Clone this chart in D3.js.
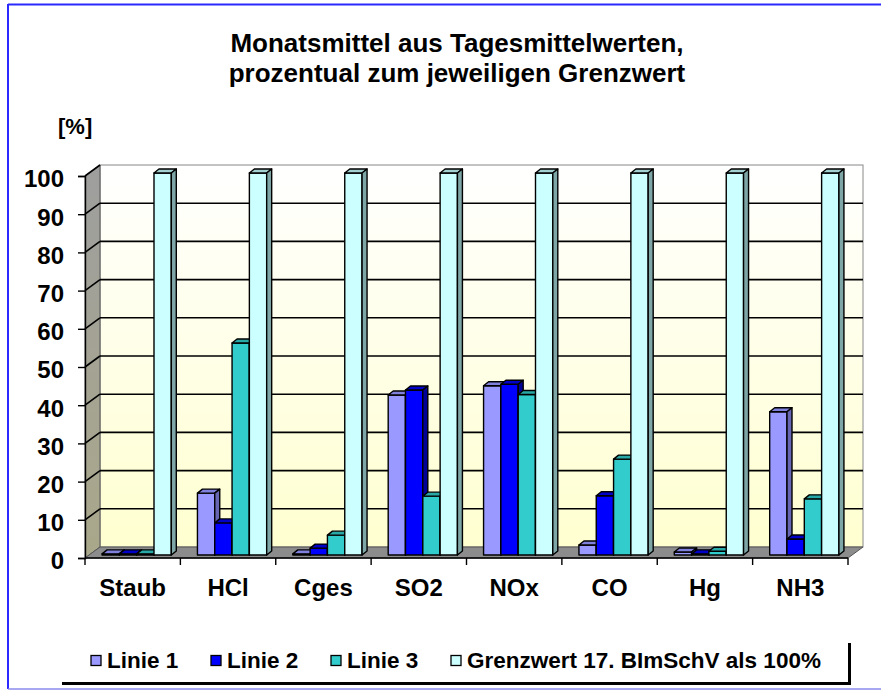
<!DOCTYPE html>
<meta charset="utf-8">
<style>
body { margin: 0; background: #fff; }
svg { display: block; font-family: "Liberation Sans", Arial, sans-serif; font-weight: bold; }
</style>
<svg width="881" height="692"></svg>
<script src="https://cdn.jsdelivr.net/npm/d3@7"></script>
<script>
// values, percent of the limit value
const categories = ["Staub", "HCl", "Cges", "SO2", "NOx", "CO", "Hg", "NH3"]
const series = ["Linie 1", "Linie 2", "Linie 3", "Grenzwert 17. BImSchV als 100%"]
const linie1 = [0.3, 16.2, 0.3, 41.9, 44.3, 2.6, 0.8, 37.5]
const linie2 = [0.3, 8.4, 1.8, 43.2, 44.7, 15.5, 0.3, 4.2]
const linie3 = [0.3, 55.5, 5.2, 15.4, 42.0, 25.1, 1.0, 14.7]
const grenzwert = [100, 100, 100, 100, 100, 100, 100, 100]
const yTicks = [0, 10, 20, 30, 40, 50, 60, 70, 80, 90, 100]

const front = ["#9999ff", "#0000ff", "#33cccc", "#ccffff"]
const top_ = ["#8080dd", "#0000c8", "#29a8a8", "#a3d1d1"]
const side = ["#6666b3", "#000099", "#1f8080", "#7fa6a6"]

var svg = d3.select("svg")

// outer frame
svg.append("line").attr("x1", 8).attr("x2", 881).attr("y1", 4.5).attr("y2", 4.5)
  .attr("stroke", "#2a2aff").attr("stroke-width", 2)
svg.append("line").attr("x1", 8).attr("x2", 8).attr("y1", 4).attr("y2", 689)
  .attr("stroke", "#2a2aff").attr("stroke-width", 2)
svg.append("line").attr("x1", 8).attr("x2", 881).attr("y1", 689).attr("y2", 689)
  .attr("stroke", "#8a8aee").attr("stroke-width", 1.5)

// title
svg.append("text").attr("x", 457).attr("y", 52).attr("text-anchor", "middle")
  .attr("font-size", 26).text("Monatsmittel aus Tagesmittelwerten,")
svg.append("text").attr("x", 457).attr("y", 82).attr("text-anchor", "middle")
  .attr("font-size", 26).text("prozentual zum jeweiligen Grenzwert")
svg.append("text").attr("x", 58).attr("y", 134).attr("font-size", 22).text("[%]")

var x = d3.scaleBand().domain(categories).range([85, 848])
var y = d3.scaleLinear().domain([0, 100]).range([558, 176])
var xs = d3.scaleBand().domain(series).range([0, x.bandwidth()]).paddingOuter(0.755)

// depth of the walls, position of the bar plane, depth of a bar
var dx = 15, dy = -11
var bx = 4, by = -3
var ddx = 5, ddy = -4

var x0 = x.range()[0], x1 = x.range()[1]

var defs = svg.append("defs")
var g1 = defs.append("linearGradient").attr("id", "wall").attr("x1", 0).attr("x2", 0).attr("y1", 0).attr("y2", 1)
g1.append("stop").attr("offset", 0).attr("stop-color", "#ffffff")
g1.append("stop").attr("offset", 1).attr("stop-color", "#ffffd0")
var g2 = defs.append("linearGradient").attr("id", "lwall").attr("x1", 0).attr("x2", 0).attr("y1", 0).attr("y2", 1)
g2.append("stop").attr("offset", 0).attr("stop-color", "#9e9e9e")
g2.append("stop").attr("offset", 1).attr("stop-color", "#aaa88a")

// back wall
svg.append("rect")
  .attr("x", x0 + dx).attr("y", y(100) + dy)
  .attr("width", x1 - x0).attr("height", y(0) - y(100))
  .attr("fill", "url(#wall)").attr("stroke", "#888").attr("stroke-width", 1)

// left wall
svg.append("path")
  .attr("d", "M" + x0 + "," + y(100) + "L" + (x0 + dx) + "," + (y(100) + dy) +
    "L" + (x0 + dx) + "," + (y(0) + dy) + "L" + x0 + "," + y(0) + "Z")
  .attr("fill", "url(#lwall)").attr("stroke", "#555").attr("stroke-width", 1)

// floor
svg.append("path")
  .attr("d", "M" + x0 + "," + y(0) + "L" + (x0 + dx) + "," + (y(0) + dy) +
    "L" + (x1 + dx) + "," + (y(0) + dy) + "L" + x1 + "," + y(0) + "Z")
  .attr("fill", "#8c8c8c").attr("stroke", "#555").attr("stroke-width", 1)

// gridlines
var grid = svg.append("g").attr("stroke", "#000").attr("stroke-width", 1.6)
grid.selectAll(".gb").data(yTicks.filter(t => t > 0 && t < 100)).enter().append("line")
  .attr("x1", x0 + dx).attr("x2", x1 + dx)
  .attr("y1", d => y(d) + dy).attr("y2", d => y(d) + dy)
grid.selectAll(".gl").data(yTicks.filter(t => t > 0)).enter().append("line")
  .attr("x1", x0).attr("x2", x0 + dx)
  .attr("y1", d => y(d)).attr("y2", d => y(d) + dy)

// bars
var values = [linie1, linie2, linie3, grenzwert]
var bars = svg.append("g").attr("stroke", "#000").attr("stroke-width", 1.4).attr("stroke-linejoin", "round")
categories.forEach((c, ci) => {
  series.forEach((s, si) => {
    var v = values[si][ci]
    var bl = x(c) + xs(s) + bx
    var w = xs.bandwidth()
    var yt = y(v) + by
    var yb = y(0) + by
    bars.append("rect").attr("x", bl).attr("y", yt).attr("width", w).attr("height", yb - yt)
      .attr("fill", front[si])
    bars.append("path")
      .attr("d", "M" + bl + "," + yt + "l" + ddx + "," + ddy + "h" + w + "l" + (-ddx) + "," + (-ddy) + "Z")
      .attr("fill", top_[si])
    bars.append("path")
      .attr("d", "M" + (bl + w) + "," + yt + "l" + ddx + "," + ddy + "V" + (yb + ddy) + "l" + (-ddx) + "," + (-ddy) + "Z")
      .attr("fill", side[si])
  })
})

// axes
var yAxis = svg.append("g").attr("transform", "translate(" + x0 + ",0)")
  .call(d3.axisLeft(y).tickValues(yTicks).tickSize(7).tickPadding(14))
yAxis.select(".domain").attr("stroke", "#000").attr("stroke-width", 1.4)
yAxis.selectAll(".tick line").attr("stroke-width", 1.4)
yAxis.selectAll("text").attr("font-size", 24).attr("font-family", null).attr("fill", "#000").attr("dy", "0.45em")

svg.append("line").attr("x1", x0).attr("x2", x1).attr("y1", y(0)).attr("y2", y(0))
  .attr("stroke", "#000").attr("stroke-width", 1.4)
svg.selectAll(".xt").data(categories.map(c => x(c)).concat([x1])).enter().append("line")
  .attr("x1", d => d).attr("x2", d => d).attr("y1", y(0)).attr("y2", y(0) + 7)
  .attr("stroke", "#000").attr("stroke-width", 1.4)
svg.selectAll(".xl").data(categories).enter().append("text")
  .attr("x", d => x(d) + x.bandwidth() / 2).attr("y", 596)
  .attr("text-anchor", "middle").attr("font-size", 24).text(d => d)

// legend
var legX = [91, 211, 331, 451]
var leg = svg.append("g")
series.forEach((s, i) => {
  leg.append("rect").attr("x", legX[i]).attr("y", 655.5).attr("width", 10).attr("height", 10)
    .attr("fill", front[i]).attr("stroke", "#000").attr("stroke-width", 1.3)
  leg.append("text").attr("x", legX[i] + 16).attr("y", 668).attr("font-size", 22.5).text(s)
})
leg.append("path").attr("d", "M62,683.5H849.5V643")
  .attr("fill", "none").attr("stroke", "#000").attr("stroke-width", 3)
</script>
